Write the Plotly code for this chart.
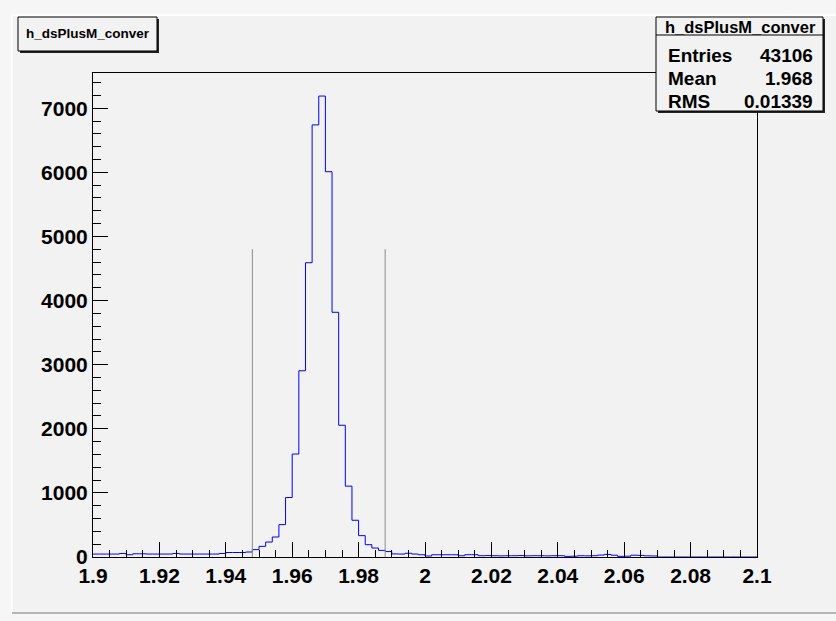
import numpy as np
import plotly.graph_objects as go

# Histogram h_dsPlusM_conver: 100 bins on [1.9, 2.1]
x_min, x_max, n_bins = 1.9, 2.1, 100
counts = [
    46, 46, 46, 46, 55, 35, 50, 50, 46, 46,
    46, 46, 55, 46, 46, 46, 46, 46, 46, 55,
    70, 70, 70, 78, 115, 166, 233, 312, 505, 928,
    1606, 2905, 4590, 6740, 7190, 6010, 3817, 2055, 1105, 573,
    333, 192, 140, 103, 85, 48, 46, 58, 46, 35,
    15, 35, 35, 35, 35, 20, 36, 36, 20, 22,
    20, 18, 20, 20, 22, 18, 20, 20, 18, 20,
    20, 10, 12, 20, 18, 20, 30, 40, 28, 10,
    12, 28, 25, 18, 16, 0, 0, 0, 0, 0,
    0, 0, 0, 0, 0, 0, 0, 0, 0, 0,
]
# selection window markers
cut_positions = [1.948, 1.988]
cut_height = 4800

stat_title = "h_dsPlusM_conver"
stat_names = ["Entries", "Mean", "RMS"]
stat_values = ["43106", "1.968", "0.01339"]

x_tickvals = [1.9, 1.92, 1.94, 1.96, 1.98, 2.0, 2.02, 2.04, 2.06, 2.08, 2.1]
x_ticktext = ["1.9", "1.92", "1.94", "1.96", "1.98", "2", "2.02", "2.04", "2.06", "2.08", "2.1"]
y_tickvals = [0, 1000, 2000, 3000, 4000, 5000, 6000, 7000]
y_ticktext = [str(v) for v in y_tickvals]

edges = np.linspace(x_min, x_max, n_bins + 1)
y_max = max(counts) * 1.05

W, H = 836, 621
L, R, T, B = 93, 757, 73, 557
BG = "#f2f2f2"
FONT = "Liberation Sans"


def fx(px):
    return (px - L) / (R - L)


def fy(py):
    return (B - py) / (B - T)


fig = go.Figure()

fig.add_trace(go.Scatter(
    x=edges, y=counts + [counts[-1]], mode="lines",
    line=dict(shape="hv", color="#0000ff", width=1),
    hoverinfo="skip", showlegend=False,
))

cx, cy = [], []
for c in cut_positions:
    cx += [c, c, None]
    cy += [0, cut_height, None]
fig.add_trace(go.Scatter(
    x=cx, y=cy, mode="lines", line=dict(color="#8a8a8a", width=1),
    hoverinfo="skip", showlegend=False,
))

shapes = []
# canvas bevel
shapes.append(dict(type="rect", xref="paper", yref="paper", layer="below",
                   x0=fx(12), x1=fx(840), y0=fy(613), y1=fy(15),
                   fillcolor=BG, line=dict(width=0)))
shapes.append(dict(type="line", xref="paper", yref="paper",
                   x0=fx(12), x1=fx(12), y0=fy(613), y1=fy(15),
                   line=dict(color="#ffffff", width=1.5)))
shapes.append(dict(type="line", xref="paper", yref="paper",
                   x0=fx(12), x1=fx(840), y0=fy(15), y1=fy(15),
                   line=dict(color="#ffffff", width=1.5)))
shapes.append(dict(type="line", xref="paper", yref="paper",
                   x0=fx(12), x1=fx(840), y0=fy(613), y1=fy(613),
                   line=dict(color="#a0a0a0", width=1.5)))


def boxed(x0, y0, x1, y1):
    # panel with a thin drop shadow on the right and bottom
    out = [dict(type="rect", xref="paper", yref="paper",
                x0=fx(x0 + 2), x1=fx(x1 + 2), y0=fy(y1 + 2), y1=fy(y0 + 2),
                fillcolor="#222222", line=dict(width=0)),
           dict(type="rect", xref="paper", yref="paper",
                x0=fx(x0), x1=fx(x1), y0=fy(y1), y1=fy(y0),
                fillcolor=BG, line=dict(color="#000000", width=1))]
    return out


shapes += boxed(18, 17, 157, 51)
shapes += boxed(656, 17, 823, 111)
shapes.append(dict(type="line", xref="paper", yref="paper",
                   x0=fx(656), x1=fx(823), y0=fy(35), y1=fy(35),
                   line=dict(color="#000000", width=1)))

annotations = [
    dict(x=fx(88), y=fy(34), xref="paper", yref="paper", text=stat_title,
         showarrow=False, xanchor="center", yanchor="middle",
         font=dict(family=FONT, size=13.5, color="black", weight="bold")),
    dict(x=fx(740), y=fy(27), xref="paper", yref="paper", text=stat_title,
         showarrow=False, xanchor="center", yanchor="middle",
         font=dict(family=FONT, size=16.5, color="black", weight="bold")),
]
for name, val, py in zip(stat_names, stat_values, [55, 79, 102]):
    annotations.append(dict(x=fx(666), y=fy(py), xref="paper", yref="paper", text=name,
                            showarrow=False, xanchor="left", yanchor="middle",
                            font=dict(family=FONT, size=19, color="black", weight="bold")))
    annotations.append(dict(x=fx(815), y=fy(py), xref="paper", yref="paper", text=val,
                            showarrow=False, xanchor="right", yanchor="middle",
                            font=dict(family=FONT, size=19, color="black", weight="bold")))

axis_font = dict(family=FONT, size=21, color="black", weight="bold")

fig.update_layout(
    width=W, height=H,
    margin=dict(l=L, r=W - R, t=T, b=H - B),
    paper_bgcolor="#f6f6f6", plot_bgcolor=BG,
    shapes=shapes, annotations=annotations,
    showlegend=False,
    xaxis=dict(
        range=[x_min, x_max], tickmode="array", tickvals=x_tickvals, ticktext=x_ticktext,
        ticks="inside", ticklen=15, tickcolor="black", tickwidth=1,
        minor=dict(tickmode="linear", tick0=x_min, dtick=0.005, ticks="inside",
                   ticklen=7, tickcolor="black", tickwidth=1),
        showline=True, mirror=True, linecolor="black", linewidth=1,
        showgrid=False, zeroline=False, tickfont=axis_font,
    ),
    yaxis=dict(
        range=[0, y_max], tickmode="array", tickvals=y_tickvals, ticktext=y_ticktext,
        ticks="inside", ticklen=15, tickcolor="black", tickwidth=1,
        minor=dict(tickmode="linear", tick0=0, dtick=200, ticks="inside",
                   ticklen=8, tickcolor="black", tickwidth=1),
        showline=True, mirror=True, linecolor="black", linewidth=1,
        showgrid=False, zeroline=False, tickfont=axis_font,
    ),
)

fig.write_html("out.html")
